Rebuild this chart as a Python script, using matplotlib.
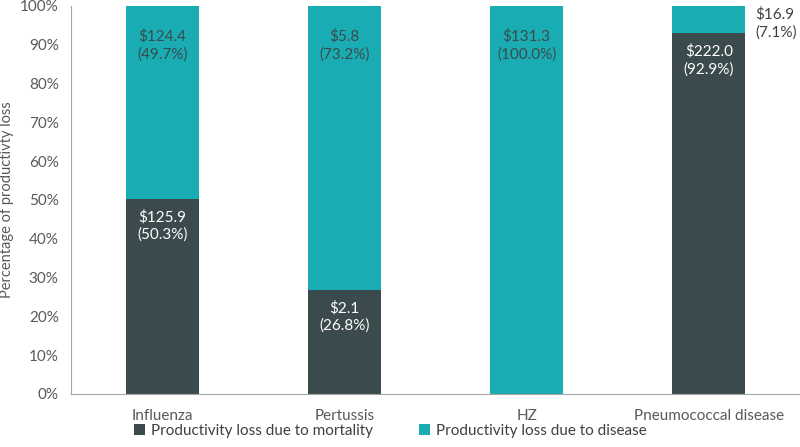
import matplotlib
matplotlib.use('Agg')
import matplotlib.pyplot as plt
import numpy as np

plt.rcParams['font.family'] = ['Lato', 'DejaVu Sans']

categories = ['Influenza', 'Pertussis', 'HZ', 'Pneumococcal disease']
mortality_usd = [125.9, 2.1, 0.0, 222.0]
mortality_pct = [50.3, 26.8, 0.0, 92.9]
disease_usd = [124.4, 5.8, 131.3, 16.9]
disease_pct = [49.7, 73.2, 100.0, 7.1]

dark = '#3b4a4d'
teal = '#19adb3'
grey = '#595959'
fs = 11

fig = plt.figure(figsize=(8, 4.47), dpi=100)
ax = fig.add_axes([0.089, 0.119, 0.911, 0.868])

x = np.arange(len(categories))
w = 0.4
ax.bar(x, mortality_pct, w, color=dark, label='Productivity loss due to mortality')
ax.bar(x, disease_pct, w, bottom=mortality_pct, color=teal,
       label='Productivity loss due to disease')

for i in range(len(categories)):
    if mortality_pct[i] > 0:
        ax.annotate(f'${mortality_usd[i]:.1f}\n({mortality_pct[i]:.1f}%)',
                    (x[i], mortality_pct[i]), xytext=(0, -8), textcoords='offset points',
                    ha='center', va='top', color='white', fontsize=fs, linespacing=1.3)
    top = mortality_pct[i] + disease_pct[i]
    if disease_pct[i] >= 20:
        ax.annotate(f'${disease_usd[i]:.1f}\n({disease_pct[i]:.1f}%)',
                    (x[i], top), xytext=(0, -17), textcoords='offset points',
                    ha='center', va='top', color=dark, fontsize=fs, linespacing=1.3)
    else:
        ax.annotate(f'${disease_usd[i]:.1f}\n({disease_pct[i]:.1f}%)',
                    (x[i] + w / 2, top), xytext=(7, -1), textcoords='offset points',
                    ha='left', va='top', color='#404040', fontsize=fs, linespacing=1.3)

ax.set_xlim(-0.5, 3.5)
ax.set_ylim(0, 100)
ax.set_yticks(np.arange(0, 101, 10))
ax.set_yticklabels([f'{v}%' for v in range(0, 101, 10)])
ax.set_xticks(x)
ax.set_xticklabels(categories)
ax.tick_params(axis='both', length=0, colors=grey, labelsize=fs)
ax.tick_params(axis='x', pad=11)
ax.tick_params(axis='y', pad=9)
ax.set_ylabel('Percentage of productivty loss', color=grey, fontsize=10.5)
ax.yaxis.set_label_coords(-0.078, 0.5)
for s in ['top', 'right']:
    ax.spines[s].set_visible(False)
for s in ['left', 'bottom']:
    ax.spines[s].set_color('#a6a6a6')

leg = ax.legend(loc='center', bbox_to_anchor=(0.438, -0.095), ncol=2, frameon=False,
                fontsize=fs, handlelength=0.7, handleheight=0.7, columnspacing=3,
                handletextpad=0.4, borderpad=0, borderaxespad=0)
for t in leg.get_texts():
    t.set_color('#404040')

fig.savefig('out.png', dpi=100)
